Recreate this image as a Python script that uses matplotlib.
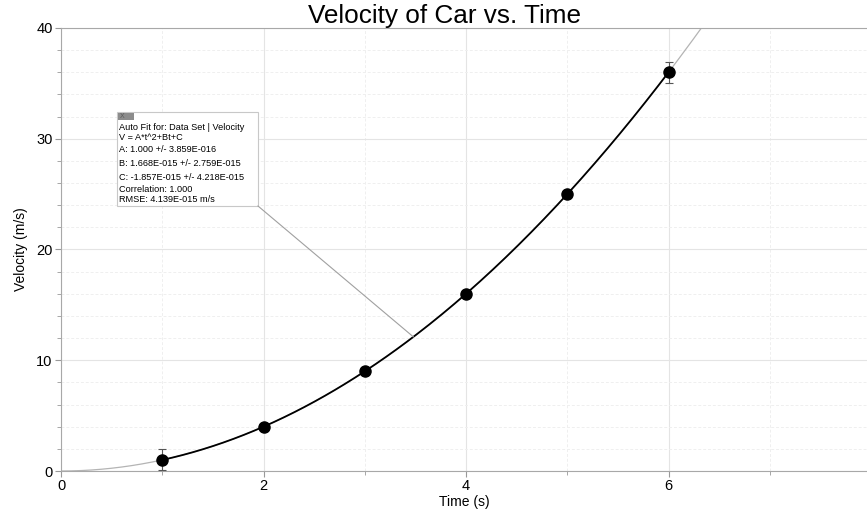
import matplotlib
matplotlib.use('Agg')
import matplotlib.pyplot as plt
from matplotlib.ticker import MultipleLocator
from matplotlib.patches import Rectangle
import numpy as np

plt.rcParams['font.family'] = ['Liberation Sans', 'DejaVu Sans']

# Data
time_s = [1, 2, 3, 4, 5, 6]
velocity = [1, 4, 9, 16, 25, 36]
err_x = [1, 6]
err_y = [1, 36]
err_size = [0.95, 0.95]

# Fit parameters  V = A*t^2 + B*t + C
A = 1.000
B = 1.668e-15
C = -1.857e-15
fit_lines = ['Auto Fit for: Data Set | Velocity',
             'V = A*t^2+Bt+C',
             'A: 1.000 +/- 3.859E-016',
             'B: 1.668E-015 +/- 2.759E-015',
             'C: -1.857E-015 +/- 4.218E-015',
             'Correlation: 1.000',
             'RMSE: 4.139E-015 m/s']

fig = plt.figure(figsize=(8.67, 5.11), dpi=100)
ax = fig.add_axes([61/867, 1 - 471/511, 1 - 61/867, (471 - 28)/511])

# fit curve, thin gray across the whole range, black over the data range
t_all = np.linspace(0, 7.96, 400)
ax.plot(t_all, A*t_all**2 + B*t_all + C, color='#b4b4b4', lw=0.9, zorder=2)
t_dat = np.linspace(min(time_s), max(time_s), 200)
ax.plot(t_dat, A*t_dat**2 + B*t_dat + C, color='k', lw=1.3, zorder=3)

ax.errorbar(err_x, err_y, yerr=err_size, fmt='none', ecolor='#555555',
            elinewidth=0.8, capsize=3, capthick=0.8, zorder=3)
ax.plot(time_s, velocity, 'o', color='k', ms=8, zorder=4)

ax.set_xlim(0, 7.96)
ax.set_ylim(0, 40)
ax.xaxis.set_major_locator(MultipleLocator(2))
ax.xaxis.set_minor_locator(MultipleLocator(1))
ax.yaxis.set_major_locator(MultipleLocator(10))
ax.yaxis.set_minor_locator(MultipleLocator(2))
ax.grid(True, which='major', color='#e4e4e4', lw=0.8)
ax.grid(True, which='minor', color='#efefef', lw=0.7, ls=(0, (3, 2)))
ax.set_axisbelow(True)

for side in ['left', 'bottom', 'top']:
    ax.spines[side].set_color('#a8a8a8')
ax.spines['right'].set_visible(False)
ax.tick_params(which='both', colors='#999999', labelcolor='k', labelsize=10.5,
               length=4, pad=2)
ax.tick_params(which='minor', length=3)

ax.set_xlabel('Time (s)', fontsize=10, labelpad=1)
ax.set_ylabel('Velocity (m/s)', fontsize=10, labelpad=6)
fig.text(445/867, 1 - 16/511, 'Velocity of Car vs. Time', fontsize=18.8,
         ha='center', va='center')

# annotation box with leader line
bx0, by0, bx1, by1 = 117, 112, 258, 206
ax_l = fig.add_axes([0, 0, 1, 1], facecolor='none')
ax_l.set_xlim(0, 867)
ax_l.set_ylim(511, 0)
ax_l.axis('off')
t_pt = 3.48
px = 61 + t_pt * (867 - 61) / 7.96
py = 471 - (A*t_pt**2) * (471 - 28) / 40
ax_l.plot([bx1, px], [by1, py], color='#a0a0a0', lw=0.8)
ax_l.add_patch(Rectangle((bx0, by0), bx1 - bx0, by1 - by0, facecolor='white',
                         edgecolor='#c8c8c8', lw=0.8))
ax_l.add_patch(Rectangle((bx0 + 1, by0 + 1), 16, 7, facecolor='#8c8c8c',
                         edgecolor='none'))
ax_l.text(bx0 + 5, by0 + 4.5, 'X', fontsize=5, color='#5a5a5a', ha='center', va='center')
ys = [127, 137, 150, 164, 178, 190, 200]
for line, yy in zip(fit_lines, ys):
    ax_l.text(bx0 + 2, yy, line, fontsize=6.6, va='center', ha='left')

fig.savefig('out.png', dpi=100)
